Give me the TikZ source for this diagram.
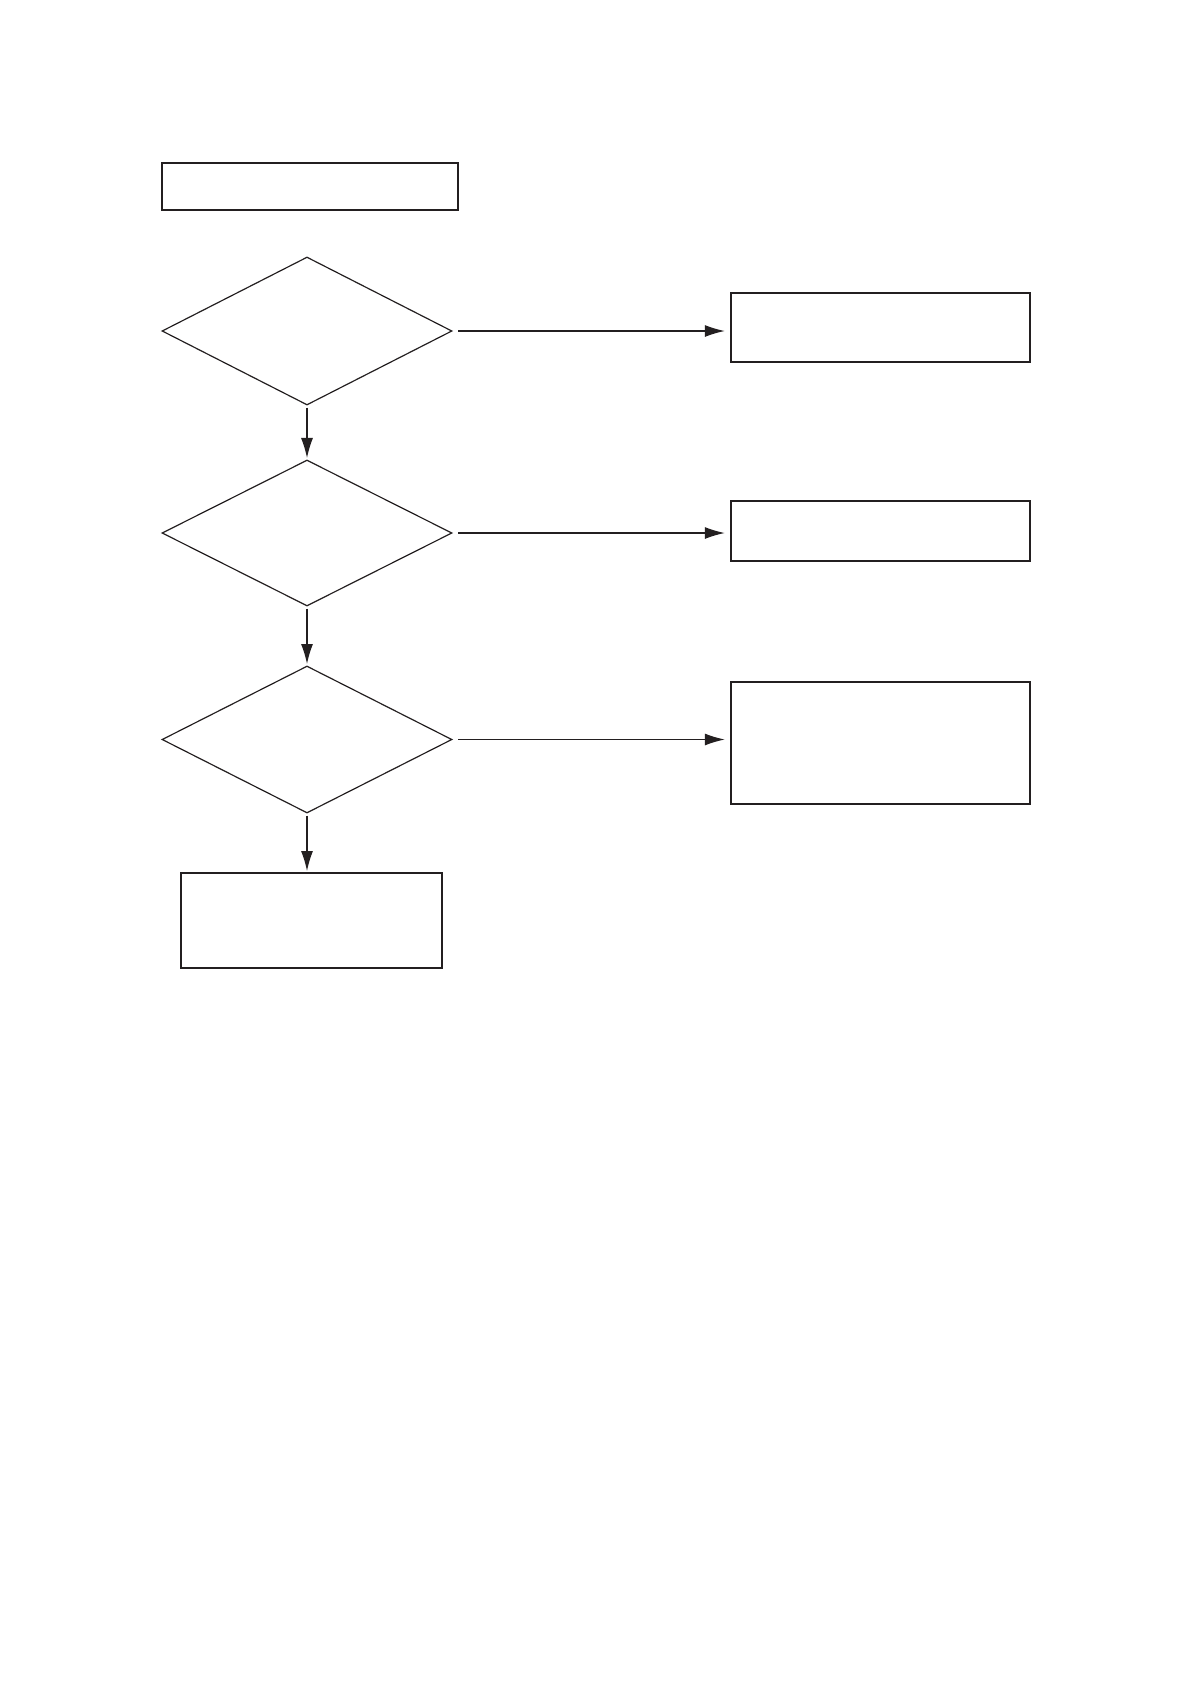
\documentclass[tikz,border=0pt]{standalone}
\usepackage{tikz}
\usetikzlibrary{shapes.geometric,arrows.meta}
\definecolor{fcblack}{RGB}{35,31,32}

\begin{document}
\begin{tikzpicture}[x=0.025cm, y=-0.025cm, line width=0.85pt,
    box/.style={draw=fcblack, rectangle, inner sep=0pt},
    test/.style={draw=fcblack, diamond, inner sep=0pt, minimum width=290*0.025cm},
    flow/.style={fcblack, -{Latex[length=0.5cm, width=0.3cm]}},
    across/.style={flow, shorten <=4pt, shorten >=4pt},
    down/.style={flow, shorten <=1.5pt, shorten >=1pt}]
  % Page
  \useasboundingbox (0,0) rectangle (1191,1685);

  % Left column
  \node[box, minimum width=296*0.025cm, minimum height=47*0.025cm] (start) at (310,186.5) {};
  \node[test, minimum height=148*0.025cm] (q1) at (307,331) {};
  \node[test, minimum height=146*0.025cm] (q2) at (307,533) {};
  \node[test, minimum height=147*0.025cm] (q3) at (307,739.5) {};
  \node[box, minimum width=261*0.025cm, minimum height=95*0.025cm] (last) at (311.5,920.5) {};

  % Right column
  \node[box, minimum width=299*0.025cm, minimum height=69*0.025cm] (r1) at (880.5,327.5) {};
  \node[box, minimum width=299*0.025cm, minimum height=60*0.025cm] (r2) at (880.5,531) {};
  \node[box, minimum width=299*0.025cm, minimum height=122*0.025cm] (r3) at (880.5,743) {};

  % Connectors
  \draw[down] (q1.south) -- (q2.north);
  \draw[down] (q2.south) -- (q3.north);
  \draw[down] (q3.south) -- (q3.south |- last.north);
  \draw[across] (q1.east) -- (q1.east -| r1.west);
  \draw[across] (q2.east) -- (q2.east -| r2.west);
  \draw[across] (q3.east) -- (q3.east -| r3.west);
\end{tikzpicture}
\end{document}
